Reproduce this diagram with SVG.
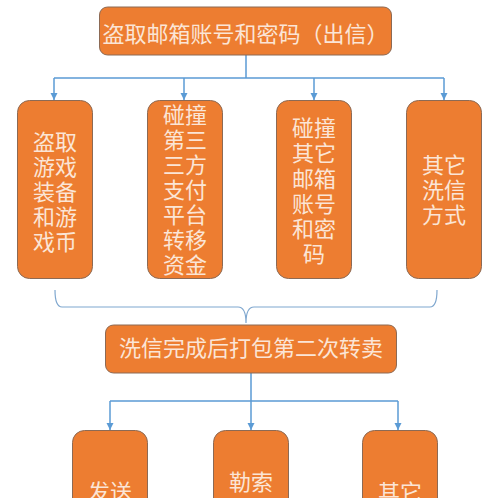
<svg xmlns="http://www.w3.org/2000/svg" width="497" height="498" viewBox="0 0 497 498">
<defs>
<marker id="arr" markerWidth="8" markerHeight="8" refX="7" refY="4" orient="auto" markerUnits="userSpaceOnUse">
<path d="M0,0.5 L7,4 L0,7.5 Z" fill="#5B9BD5"/>
</marker>
<style>
.box{fill:#ED7D31;stroke:#8C6A55;stroke-width:1}
.t{fill:#FBE5D6;font-family:"Noto Sans CJK SC","Noto Sans",sans-serif;text-anchor:middle}
.c{fill:none;stroke:#5B9BD5;stroke-width:1.5}
.b{fill:none;stroke:#7FA7CF;stroke-width:1.2}
</style>
</defs>
<rect width="497" height="498" fill="#FFFFFF"/>
<g id="connectors">
<path class="c" d="M246,55 V78 M54,78 H444"/>
<path class="c" d="M54,78 V100" marker-end="url(#arr)"/>
<path class="c" d="M184,78 V100" marker-end="url(#arr)"/>
<path class="c" d="M314,78 V100" marker-end="url(#arr)"/>
<path class="c" d="M444,78 V100" marker-end="url(#arr)"/>
<path class="b" d="M55,290 Q55,307 62,307 L238,307 Q246,307 246,323 Q246,307 254,307 L430,307 Q437,307 437,290"/>
<path class="c" d="M251,373 V401 M110,401 H398"/>
<path class="c" d="M110,401 V430" marker-end="url(#arr)"/>
<path class="c" d="M251,401 V430" marker-end="url(#arr)"/>
<path class="c" d="M398,401 V430" marker-end="url(#arr)"/>
</g>
<g id="n_top">
<rect class="box" x="99.5" y="7" width="292" height="48" rx="8"/>
<text class="t" x="245.5" y="42" font-size="22">盗取邮箱账号和密码（出信）</text>
</g>
<g id="n_game">
<rect class="box" x="17.5" y="100.5" width="75" height="178" rx="12"/>
<text class="t" font-size="22"><tspan x="55" y="150">盗取</tspan><tspan x="55" y="175">游戏</tspan><tspan x="55" y="200">装备</tspan><tspan x="55" y="225">和游</tspan><tspan x="55" y="250">戏币</tspan></text>
</g>
<g id="n_pay">
<rect class="box" x="147.5" y="100.5" width="75" height="178" rx="12"/>
<text class="t" font-size="22"><tspan x="185" y="123">碰撞</tspan><tspan x="185" y="148">第三</tspan><tspan x="185" y="173">三方</tspan><tspan x="185" y="198">支付</tspan><tspan x="185" y="223">平台</tspan><tspan x="185" y="248">转移</tspan><tspan x="185" y="273">资金</tspan></text>
</g>
<g id="n_mail">
<rect class="box" x="276.5" y="100.5" width="75" height="178" rx="12"/>
<text class="t" font-size="22"><tspan x="314" y="136">碰撞</tspan><tspan x="314" y="161">其它</tspan><tspan x="314" y="187">邮箱</tspan><tspan x="314" y="212">账号</tspan><tspan x="314" y="237">和密</tspan><tspan x="314" y="262">码</tspan></text>
</g>
<g id="n_other1">
<rect class="box" x="406.5" y="100.5" width="75" height="178" rx="12"/>
<text class="t" font-size="22"><tspan x="444" y="173">其它</tspan><tspan x="444" y="198">洗信</tspan><tspan x="444" y="223">方式</tspan></text>
</g>
<g id="n_resell">
<rect class="box" x="105.5" y="325" width="291" height="48" rx="8"/>
<text class="t" x="251" y="356" font-size="22">洗信完成后打包第二次转卖</text>
</g>
<g id="n_send">
<rect class="box" x="72.5" y="430.5" width="75" height="90" rx="12"/>
<text class="t" x="110" y="500" font-size="22">发送</text>
</g>
<g id="n_ransom">
<rect class="box" x="213.5" y="430.5" width="75" height="90" rx="12"/>
<text class="t" x="251" y="490" font-size="22">勒索</text>
</g>
<g id="n_other2">
<rect class="box" x="362.5" y="430.5" width="75" height="90" rx="12"/>
<text class="t" x="400" y="500" font-size="22">其它</text>
</g>
</svg>
